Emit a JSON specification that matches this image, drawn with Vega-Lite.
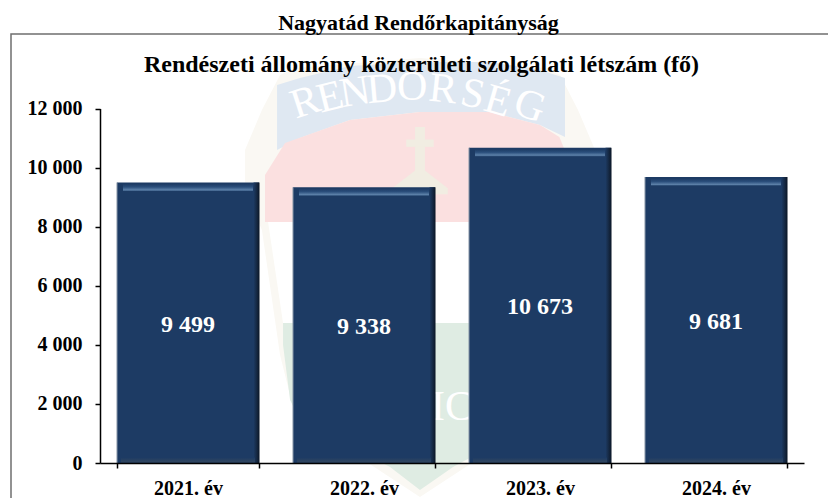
{"$schema":"https://vega.github.io/schema/vega-lite/v6.json","width":825,"height":470,"autosize":"none","padding":{"left":11,"top":34,"right":0,"bottom":0},"background":"white","config":{"font":"Liberation Serif","view":{"stroke":"#6f6f6f","strokeWidth":1.5}},"title":{"text":"Nagyatád Rendőrkapitányság","font":"Liberation Serif","fontSize":22,"fontWeight":"bold","color":"black","anchor":"middle","dx":-5,"offset":-1},"datasets":{"bars":[{"ev":"2021. év","value":9499,"label":"9 499"},{"ev":"2022. év","value":9338,"label":"9 338"},{"ev":"2023. év","value":10673,"label":"10 673"},{"ev":"2024. év","value":9681,"label":"9 681"}],"emblem":[{"part":"a_cream","u":0.824,"top":10595,"bottom":9241},{"part":"a_cream","u":0.92,"top":11949,"bottom":7887},{"part":"a_cream","u":1.023,"top":13134,"bottom":3656},{"part":"a_cream","u":1.108,"top":13371,"bottom":1625},{"part":"a_cream","u":1.818,"top":13709,"bottom":-1151},{"part":"a_cream","u":2.528,"top":13371,"bottom":1625},{"part":"a_cream","u":2.614,"top":13134,"bottom":3656},{"part":"a_cream","u":2.716,"top":11949,"bottom":7887},{"part":"a_cream","u":2.813,"top":10595,"bottom":9241},{"part":"b_white","u":0.955,"top":8158,"bottom":8158},{"part":"b_white","u":1.04,"top":8158,"bottom":4739},{"part":"b_white","u":2.597,"top":8158,"bottom":4739},{"part":"b_white","u":2.682,"top":8158,"bottom":8158},{"part":"c_blue","u":1.006,"top":12796,"bottom":10596},{"part":"c_blue","u":1.136,"top":13033,"bottom":11002},{"part":"c_blue","u":1.42,"top":13440,"bottom":11611},{"part":"c_blue","u":1.818,"top":13575,"bottom":11882},{"part":"c_blue","u":2.216,"top":13575,"bottom":11882},{"part":"c_blue","u":2.5,"top":13304,"bottom":11442},{"part":"c_blue","u":2.642,"top":13033,"bottom":11035},{"part":"d_red","u":0.9375,"top":9750,"bottom":8158},{"part":"d_red","u":1.051,"top":10832,"bottom":8158},{"part":"d_red","u":1.42,"top":11611,"bottom":8158},{"part":"d_red","u":1.818,"top":11882,"bottom":8158},{"part":"d_red","u":2.216,"top":11882,"bottom":8158},{"part":"d_red","u":2.5,"top":11442,"bottom":8158},{"part":"d_red","u":2.61,"top":11035,"bottom":8158},{"part":"d_red","u":2.699,"top":9750,"bottom":8158},{"part":"e_green","u":1.04,"top":4739,"bottom":3994},{"part":"e_green","u":1.08,"top":4739,"bottom":2133},{"part":"e_green","u":1.136,"top":4739,"bottom":1456},{"part":"e_green","u":1.648,"top":4739,"bottom":-135},{"part":"e_green","u":1.818,"top":4739,"bottom":-914},{"part":"e_green","u":2.006,"top":4739,"bottom":-135},{"part":"e_green","u":2.5,"top":4739,"bottom":1456},{"part":"e_green","u":2.557,"top":4739,"bottom":2133},{"part":"e_green","u":2.597,"top":4739,"bottom":3994},{"part":"f_shaft","u":1.79,"top":11374,"bottom":9200},{"part":"f_shaft","u":1.846,"top":11374,"bottom":9200},{"part":"g_arm","u":1.74,"top":10950,"bottom":10700},{"part":"g_arm","u":1.896,"top":10950,"bottom":10700},{"part":"h_foot","u":1.66,"top":9300,"bottom":9100},{"part":"h_foot","u":1.79,"top":9900,"bottom":9100},{"part":"h_foot","u":1.846,"top":9900,"bottom":9100},{"part":"h_foot","u":1.976,"top":9300,"bottom":9100}],"letters":[{"t":"R","u":1.165,"v":12220,"a":-18},{"t":"E","u":1.307,"v":12390,"a":-14},{"t":"N","u":1.449,"v":12560,"a":-9},{"t":"D","u":1.602,"v":12660,"a":-5},{"t":"Ő","u":1.773,"v":12730,"a":0},{"t":"R","u":1.949,"v":12660,"a":6},{"t":"S","u":2.119,"v":12490,"a":12},{"t":"É","u":2.261,"v":12250,"a":16},{"t":"G","u":2.443,"v":12090,"a":20},{"t":"IC","u":2.0,"v":1900,"a":0}]},"data":{"name":"bars"},"resolve":{"scale":{"x":"independent","y":"independent","color":"independent"},"axis":{"x":"independent","y":"independent"}},"layer":[{"data":{"name":"emblem"},"mark":{"type":"area","clip":false,"opacity":1},"encoding":{"x":{"field":"u","type":"quantitative","scale":{"domain":[0,4],"range":[89,793],"nice":false,"zero":false},"axis":null},"y":{"field":"top","type":"quantitative","stack":null,"scale":{"domain":[0,12000],"range":[429,74.5],"nice":false},"axis":null},"y2":{"field":"bottom"},"color":{"field":"part","type":"nominal","legend":null,"scale":{"domain":["a_cream","b_white","c_blue","d_red","e_green","f_shaft","g_arm","h_foot"],"range":["#faf8f3","#ffffff","#dfe8f2","#fbe0e0","#dfece3","#f1ede2","#f1ede2","#f1ede2"]}}}},{"data":{"name":"letters"},"mark":{"type":"text","font":"Liberation Serif","fontSize":42,"color":"#ffffff","baseline":"middle"},"encoding":{"x":{"field":"u","type":"quantitative","scale":{"domain":[0,4],"range":[89,793],"nice":false,"zero":false},"axis":null},"y":{"field":"v","type":"quantitative","scale":{"domain":[0,12000],"range":[429,74.5],"nice":false},"axis":null},"text":{"field":"t"},"angle":{"field":"a","type":"quantitative","scale":null}}},{"mark":{"type":"bar","color":"#1d3b64"},"encoding":{"x":{"field":"ev","type":"nominal","sort":null,"scale":{"range":[89,793],"paddingInner":0.193,"paddingOuter":0.0965},"axis":{"title":null,"zindex":1,"offset":-41,"tickBand":"extent","labelAngle":0,"labelFont":"Liberation Serif","labelFontSize":20,"labelFontWeight":"bold","labelColor":"black","labelPadding":10,"tickColor":"black","tickSize":5,"tickWidth":1.5,"domainColor":"black","domainWidth":1.5}},"y":{"field":"value","type":"quantitative","scale":{"domain":[0,12000],"range":[429,74.5],"nice":false},"axis":{"title":"Rendészeti állomány közterületi szolgálati létszám (fő)","zindex":1,"titleFont":"Liberation Serif","titleFontSize":24,"titleFontWeight":"bold","titleColor":"black","titleAngle":0,"titleX":321,"titleY":37.5,"titleAlign":"center","titleBaseline":"alphabetic","offset":-89,"grid":false,"values":[0,2000,4000,6000,8000,10000,12000],"labelExpr":"replace(format(datum.value,','),/,/g,' ')","labelFont":"Liberation Serif","labelFontSize":20,"labelFontWeight":"bold","labelColor":"black","labelPadding":13,"tickColor":"black","tickSize":5,"tickWidth":1.5,"domainColor":"black","domainWidth":1.5}}}},{"mark":{"type":"bar","width":6,"xOffset":68.5,"color":{"x1":0,"y1":0,"x2":1,"y2":0,"gradient":"linear","stops":[{"offset":0,"color":"#1d3b64"},{"offset":0.6,"color":"#14263f"},{"offset":1,"color":"#0a1525"}]}},"encoding":{"x":{"field":"ev","type":"nominal","sort":null,"scale":{"range":[89,793],"paddingInner":0.193,"paddingOuter":0.0965},"axis":null},"y":{"field":"value","type":"quantitative","scale":{"domain":[0,12000],"range":[429,74.5],"nice":false},"axis":null}}},{"mark":{"type":"bar","width":1,"xOffset":-71,"color":"#8a97a8"},"encoding":{"x":{"field":"ev","type":"nominal","sort":null,"scale":{"range":[89,793],"paddingInner":0.193,"paddingOuter":0.0965},"axis":null},"y":{"field":"value","type":"quantitative","scale":{"domain":[0,12000],"range":[429,74.5],"nice":false},"axis":null}}},{"mark":{"type":"tick","thickness":7,"size":130,"yOffset":5,"opacity":1,"color":{"x1":0,"y1":0,"x2":0,"y2":1,"gradient":"linear","stops":[{"offset":0,"color":"#1d3b64"},{"offset":0.45,"color":"#2b4f7c"},{"offset":0.85,"color":"#5c80a8"},{"offset":1,"color":"#3d6089"}]}},"encoding":{"x":{"field":"ev","type":"nominal","sort":null,"scale":{"range":[89,793],"paddingInner":0.193,"paddingOuter":0.0965},"axis":null},"y":{"field":"value","type":"quantitative","scale":{"domain":[0,12000],"range":[429,74.5],"nice":false},"axis":null}}},{"mark":{"type":"tick","thickness":5,"size":134,"yOffset":-3,"opacity":1,"color":{"x1":0,"y1":0,"x2":0,"y2":1,"gradient":"linear","stops":[{"offset":0,"color":"#1d3b64"},{"offset":1,"color":"#33475f"}]}},"encoding":{"x":{"field":"ev","type":"nominal","sort":null,"scale":{"range":[89,793],"paddingInner":0.193,"paddingOuter":0.0965},"axis":null},"y":{"datum":0,"type":"quantitative","scale":{"domain":[0,12000],"range":[429,74.5],"nice":false},"axis":null}}},{"mark":{"type":"text","font":"Liberation Serif","fontSize":24,"fontWeight":"bold","color":"white","baseline":"middle","dy":2},"encoding":{"x":{"field":"ev","type":"nominal","sort":null,"scale":{"range":[89,793],"paddingInner":0.193,"paddingOuter":0.0965},"axis":null},"y":{"field":"value","type":"quantitative","scale":{"domain":[0,24000],"range":[429,74.5],"nice":false},"axis":null},"text":{"field":"label"}}}]}
